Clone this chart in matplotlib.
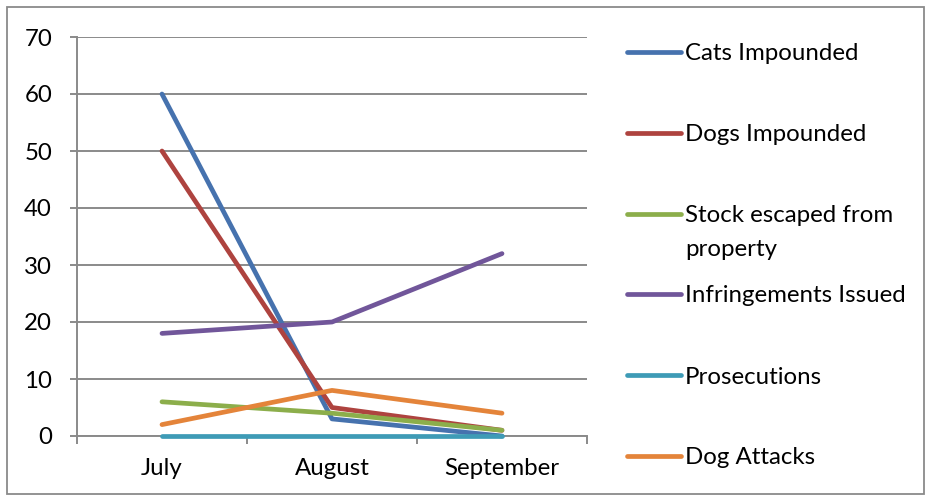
import matplotlib
matplotlib.use("Agg")
import matplotlib.pyplot as plt
from matplotlib.lines import Line2D
from matplotlib.patches import Rectangle

plt.rcParams['font.family'] = ['Lato', 'DejaVu Sans']

months = ["July", "August", "September"]
cats_impounded = [60, 3, 0]
dogs_impounded = [50, 5, 1]
stock_escaped = [6, 4, 1]
infringements = [18, 20, 32]
prosecutions = [0, 0, 0]
dog_attacks = [2, 8, 4]

series_names = ["Cats Impounded", "Dogs Impounded", "Stock escaped from\nproperty",
                "Infringements Issued", "Prosecutions", "Dog Attacks"]
series_values = [cats_impounded, dogs_impounded, stock_escaped,
                 infringements, prosecutions, dog_attacks]
colors = ["#4672AE", "#AE433F", "#8CAE4B", "#71569A", "#3E9BB6", "#E4843A"]

FS = 17.3
LW = 3.4
GRID = "#8a8a8a"
W, H = 926, 499
fig = plt.figure(figsize=(W / 100, H / 100), dpi=100)

# outer chart border
fig.add_artist(Rectangle((7 / W, 1 - 494 / H), (924 - 7) / W, (494 - 7) / H,
                         transform=fig.transFigure, fill=False,
                         edgecolor=GRID, linewidth=1.3))

ax = fig.add_axes([77 / W, 1 - 436 / H, (587 - 77) / W, (436 - 37) / H])
x = list(range(len(months)))
for vals, col in zip(series_values, colors):
    ax.plot(x, vals, color=col, linewidth=LW, solid_capstyle="round",
            solid_joinstyle="round", zorder=3, clip_on=False)

ax.set_xlim(-0.5, len(months) - 0.5)
ax.set_ylim(0, 70)
ax.set_yticks(range(0, 71, 10))
ax.yaxis.grid(True, color=GRID, linewidth=1.4)
ax.set_axisbelow(True)
ax.set_xticks(x)
ax.set_xticklabels(months)
ax.set_xticks([-0.5, 0.5, 1.5, 2.5], minor=True)
ax.tick_params(axis="x", which="major", length=0, pad=16, labelsize=FS)
ax.tick_params(axis="x", which="minor", length=6, color=GRID, width=1.4)
ax.tick_params(axis="y", length=5, color=GRID, width=1.4, pad=13, labelsize=FS)
for s in ["top", "right"]:
    ax.spines[s].set_visible(False)
for s in ["left", "bottom"]:
    ax.spines[s].set_color(GRID)
    ax.spines[s].set_linewidth(1.4)

# legend entries
entry_y = [52, 133, 214, 294, 375, 456]
line_gap = 33
for name, col, yy in zip(series_names, colors, entry_y):
    yf = 1 - yy / H
    fig.add_artist(Line2D([627 / W, 681 / W], [yf, yf], transform=fig.transFigure,
                          color=col, linewidth=LW, solid_capstyle="round"))
    for i, part in enumerate(name.split("\n")):
        fig.text(685 / W, 1 - (yy + i * line_gap) / H, part, fontsize=FS,
                 va="center_baseline", ha="left")

fig.savefig("out.png", dpi=100)
